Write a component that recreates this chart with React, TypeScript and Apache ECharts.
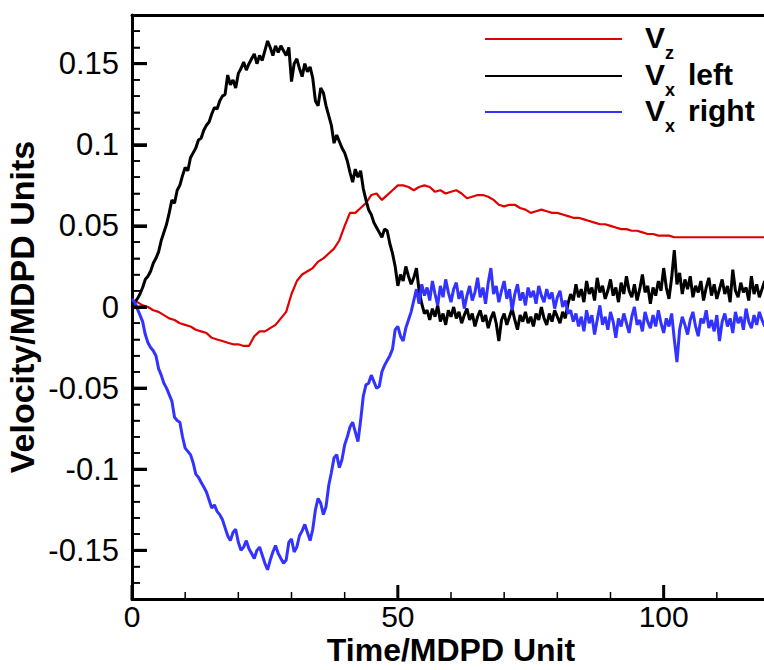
import React, { useEffect, useRef } from "react";
import * as echarts from "echarts";

// Axis tick values
const xMajorTicks = [0, 50, 100];
const xMinorTicks = [10, 20, 30, 40, 60, 70, 80, 90, 110];
const yMajorTicks = [-0.15, -0.1, -0.05, 0, 0.05, 0.1, 0.15];
const yMinorTicks = [
  -0.17, -0.16, -0.14, -0.13, -0.12, -0.11, -0.09, -0.08, -0.07, -0.06, -0.04, -0.03, -0.02, -0.01,
  0.01, 0.02, 0.03, 0.04, 0.06, 0.07, 0.08, 0.09, 0.11, 0.12, 0.13, 0.14, 0.16, 0.17,
];

// Vz (red)
const vz: [number, number][] = [
  [0, 0.004], [1, 0.003], [2, 0.001], [3, 0.0], [4, -0.002], [5, -0.003], [6, -0.005], [7, -0.007],
  [8, -0.008], [9, -0.01], [10, -0.011], [11, -0.012], [12, -0.014], [13, -0.015], [14, -0.016],
  [15, -0.019], [16, -0.02], [17, -0.021], [18, -0.022], [19, -0.023], [20, -0.023], [21, -0.024],
  [22, -0.024], [23, -0.018], [24, -0.015], [25, -0.015], [26, -0.013], [27, -0.011], [28, -0.007],
  [29, -0.003], [30, 0.008], [31, 0.016], [32, 0.02], [33, 0.022], [34, 0.024], [35, 0.028],
  [36, 0.03], [37, 0.033], [38, 0.036], [39, 0.041], [40, 0.05], [41, 0.058], [42, 0.058],
  [43, 0.061], [44, 0.064], [45, 0.069], [46, 0.07], [47, 0.066], [48, 0.069], [49, 0.072],
  [50, 0.075], [51, 0.075], [52, 0.074], [53, 0.072], [54, 0.074], [55, 0.075], [56, 0.074],
  [57, 0.071], [58, 0.072], [59, 0.07], [60, 0.071], [61, 0.072], [62, 0.07], [63, 0.067],
  [64, 0.068], [65, 0.069], [66, 0.069], [67, 0.068], [68, 0.066], [69, 0.063], [70, 0.062],
  [71, 0.063], [72, 0.063], [73, 0.061], [74, 0.06], [75, 0.058], [76, 0.059], [77, 0.06],
  [78, 0.059], [79, 0.058], [80, 0.058], [81, 0.057], [82, 0.056], [83, 0.055], [84, 0.055],
  [85, 0.054], [86, 0.053], [87, 0.052], [88, 0.051], [89, 0.051], [90, 0.05], [91, 0.049],
  [92, 0.048], [93, 0.048], [94, 0.047], [95, 0.047], [96, 0.046], [97, 0.045], [98, 0.045],
  [99, 0.044], [100, 0.044], [101, 0.044], [102, 0.043], [103, 0.043], [104, 0.043], [106, 0.043],
  [108, 0.043], [110, 0.043], [112, 0.043], [114, 0.043], [116, 0.043], [118, 0.043], [120, 0.043],
];

// Vx left (black)
const vxLeft: [number, number][] = [
  [0, 0.0], [0.5, 0.003], [1, 0.005], [1.5, 0.008], [2, 0.012], [2.5, 0.017], [3, 0.019], [3.5, 0.022],
  [4, 0.027], [4.5, 0.03], [5, 0.034], [5.5, 0.041], [6, 0.046], [6.5, 0.051], [7, 0.058], [7.5, 0.066],
  [8, 0.064], [8.5, 0.072], [9, 0.075], [9.5, 0.081], [10, 0.086], [10.5, 0.084], [11, 0.092],
  [11.5, 0.095], [12, 0.098], [12.5, 0.103], [13, 0.104], [13.5, 0.109], [14, 0.112], [14.5, 0.114],
  [15, 0.119], [15.5, 0.123], [16, 0.122], [16.5, 0.127], [17, 0.13], [17.5, 0.131], [18, 0.143],
  [18.5, 0.137], [19, 0.14], [19.5, 0.135], [20, 0.144], [20.5, 0.147], [21, 0.151], [21.5, 0.146],
  [22, 0.15], [22.5, 0.153], [23, 0.156], [23.5, 0.15], [24, 0.155], [24.5, 0.152], [25, 0.158],
  [25.5, 0.164], [26, 0.16], [26.5, 0.155], [27, 0.161], [27.5, 0.157], [28, 0.161], [28.5, 0.158],
  [29, 0.155], [29.5, 0.16], [30, 0.139], [30.5, 0.15], [31, 0.153], [31.5, 0.147], [32, 0.142],
  [32.5, 0.15], [33, 0.145], [33.5, 0.148], [34, 0.141], [34.5, 0.127], [35, 0.124], [35.5, 0.135],
  [36, 0.132], [36.5, 0.124], [37, 0.118], [37.5, 0.112], [38, 0.101], [38.5, 0.106], [39, 0.102],
  [39.5, 0.098], [40, 0.095], [40.5, 0.09], [41, 0.083], [41.5, 0.077], [42, 0.085], [42.5, 0.08],
  [43, 0.084], [43.5, 0.073], [44, 0.066], [44.5, 0.06], [45, 0.057], [45.5, 0.052], [46, 0.049],
  [46.5, 0.046], [47, 0.043], [47.5, 0.048], [48, 0.047], [48.5, 0.039], [49, 0.033], [49.5, 0.025],
  [50, 0.013], [50.5, 0.02], [51, 0.016], [51.5, 0.025], [52, 0.019], [52.5, 0.014], [53, 0.018],
  [53.5, 0.024], [54, 0.01], [54.5, 0.002], [55, -0.004], [55.5, -0.002], [56, -0.008], [56.5, -0.001],
  [57, -0.006], [57.5, 0.001], [58, -0.009], [58.5, -0.004], [59, -0.011], [59.5, -0.002], [60, -0.006],
  [60.5, 0.0], [61, -0.007], [61.5, -0.003], [62, -0.01], [62.5, -0.005], [63, -0.001], [63.5, -0.008],
  [64, -0.004], [64.5, -0.012], [65, -0.006], [65.5, -0.002], [66, -0.009], [66.5, -0.005], [67, -0.013],
  [67.5, -0.007], [68, -0.003], [68.5, -0.01], [69, -0.021], [69.5, -0.008], [70, -0.004], [70.5, -0.011],
  [71, -0.006], [71.5, -0.001], [72, -0.008], [72.5, -0.014], [73, -0.005], [73.5, -0.009], [74, -0.003],
  [74.5, -0.01], [75, -0.006], [75.5, -0.012], [76, -0.004], [76.5, -0.008], [77, 0.0], [77.5, -0.007],
  [78, -0.011], [78.5, -0.004], [79, -0.009], [79.5, -0.002], [80, -0.006], [80.5, -0.01], [81, -0.003],
  [81.5, -0.007], [82, 0.002], [82.5, 0.008], [83, 0.004], [83.5, 0.014], [84, 0.006], [84.5, 0.011],
  [85, 0.003], [85.5, 0.016], [86, 0.008], [86.5, 0.012], [87, 0.004], [87.5, 0.018], [88, 0.009],
  [88.5, 0.013], [89, 0.005], [89.5, 0.01], [90, 0.017], [90.5, 0.007], [91, 0.012], [91.5, 0.003],
  [92, 0.015], [92.5, 0.008], [93, 0.019], [93.5, 0.01], [94, 0.006], [94.5, 0.014], [95, 0.004],
  [95.5, 0.011], [96, 0.02], [96.5, 0.009], [97, 0.013], [97.5, 0.002], [98, 0.012], [98.5, 0.007],
  [99, 0.016], [99.5, 0.01], [100, 0.024], [100.5, 0.012], [101, 0.005], [101.5, 0.018], [102, 0.035],
  [102.5, 0.014], [103, 0.021], [103.5, 0.008], [104, 0.017], [104.5, 0.011], [105, 0.019], [105.5, 0.006],
  [106, 0.013], [106.5, 0.009], [107, 0.016], [107.5, 0.004], [108, 0.012], [108.5, 0.018], [109, 0.007],
  [109.5, 0.014], [110, 0.005], [110.5, 0.011], [111, 0.017], [111.5, 0.008], [112, 0.013], [112.5, 0.003],
  [113, 0.023], [113.5, 0.01], [114, 0.006], [114.5, 0.015], [115, 0.009], [115.5, 0.012], [116, 0.004],
  [116.5, 0.019], [117, 0.008], [117.5, 0.014], [118, 0.006], [118.5, 0.011], [119, 0.016], [119.5, 0.007],
  [120, 0.01],
];

// Vx right (blue)
const vxRight: [number, number][] = [
  [0, 0.005], [0.5, 0.003], [1, -0.001], [1.5, -0.005], [2, -0.009], [2.5, -0.017], [3, -0.022],
  [3.5, -0.025], [4, -0.027], [4.5, -0.03], [5, -0.038], [5.5, -0.042], [6, -0.047], [6.5, -0.05],
  [7, -0.054], [7.5, -0.058], [8, -0.068], [8.5, -0.07], [9, -0.071], [9.5, -0.08], [10, -0.087],
  [10.5, -0.089], [11, -0.091], [11.5, -0.096], [12, -0.103], [12.5, -0.105], [13, -0.108],
  [13.5, -0.111], [14, -0.114], [14.5, -0.119], [15, -0.124], [15.5, -0.122], [16, -0.126],
  [16.5, -0.128], [17, -0.131], [17.5, -0.136], [18, -0.141], [18.5, -0.144], [19, -0.139],
  [19.5, -0.137], [20, -0.145], [20.5, -0.15], [21, -0.148], [21.5, -0.144], [22, -0.149],
  [22.5, -0.152], [23, -0.155], [23.5, -0.15], [24, -0.148], [24.5, -0.153], [25, -0.158],
  [25.5, -0.162], [26, -0.156], [26.5, -0.151], [27, -0.147], [27.5, -0.152], [28, -0.155],
  [28.5, -0.158], [29, -0.156], [29.5, -0.145], [30, -0.143], [30.5, -0.151], [31, -0.148],
  [31.5, -0.141], [32, -0.138], [32.5, -0.134], [33, -0.139], [33.5, -0.144], [34, -0.137],
  [34.5, -0.125], [35, -0.118], [35.5, -0.121], [36, -0.128], [36.5, -0.123], [37, -0.11],
  [37.5, -0.102], [38, -0.093], [38.5, -0.091], [39, -0.099], [39.5, -0.094], [40, -0.085],
  [40.5, -0.08], [41, -0.074], [41.5, -0.071], [42, -0.077], [42.5, -0.083], [43, -0.07],
  [43.5, -0.055], [44, -0.048], [44.5, -0.047], [45, -0.042], [45.5, -0.046], [46, -0.05],
  [46.5, -0.049], [47, -0.04], [47.5, -0.036], [48, -0.033], [48.5, -0.03], [49, -0.026],
  [49.5, -0.014], [50, -0.012], [50.5, -0.018], [51, -0.021], [51.5, -0.013], [52, -0.008],
  [52.5, -0.003], [53, 0.004], [53.5, 0.011], [54, 0.002], [54.5, 0.014], [55, 0.007], [55.5, 0.012],
  [56, 0.004], [56.5, 0.016], [57, 0.008], [57.5, 0.001], [58, 0.013], [58.5, 0.006], [59, 0.017],
  [59.5, 0.009], [60, 0.003], [60.5, 0.011], [61, 0.015], [61.5, 0.005], [62, 0.01], [62.5, -0.001],
  [63, 0.007], [63.5, 0.013], [64, 0.004], [64.5, 0.009], [65, 0.018], [65.5, 0.006], [66, 0.012],
  [66.5, 0.002], [67, 0.015], [67.5, 0.024], [68, 0.008], [68.5, 0.013], [69, 0.003], [69.5, 0.01],
  [70, 0.016], [70.5, 0.005], [71, 0.011], [71.5, -0.002], [72, 0.008], [72.5, 0.014], [73, 0.004],
  [73.5, 0.009], [74, 0.001], [74.5, 0.012], [75, 0.006], [75.5, 0.01], [76, 0.002], [76.5, 0.013],
  [77, 0.007], [77.5, 0.003], [78, 0.011], [78.5, 0.005], [79, 0.009], [79.5, -0.001], [80, 0.006],
  [80.5, 0.01], [81, 0.0], [81.5, 0.004], [82, -0.004], [82.5, -0.002], [83, -0.009], [83.5, -0.004],
  [84, -0.012], [84.5, -0.006], [85, -0.015], [85.5, -0.002], [86, -0.01], [86.5, -0.005], [87, -0.017],
  [87.5, -0.008], [88, 0.001], [88.5, -0.011], [89, -0.006], [89.5, -0.014], [90, -0.003], [90.5, -0.009],
  [91, -0.019], [91.5, -0.007], [92, -0.012], [92.5, -0.004], [93, -0.01], [93.5, -0.016], [94, -0.006],
  [94.5, 0.0], [95, -0.011], [95.5, -0.008], [96, -0.015], [96.5, -0.003], [97, -0.009], [97.5, -0.013],
  [98, -0.005], [98.5, -0.012], [99, -0.002], [99.5, -0.01], [100, -0.016], [100.5, -0.007],
  [101, -0.012], [101.5, -0.004], [102, -0.02], [102.5, -0.034], [103, -0.014], [103.5, -0.006],
  [104, -0.011], [104.5, -0.017], [105, -0.008], [105.5, -0.003], [106, -0.012], [106.5, -0.018],
  [107, -0.007], [107.5, -0.01], [108, -0.002], [108.5, -0.013], [109, -0.008], [109.5, -0.015],
  [110, -0.005], [110.5, -0.021], [111, -0.009], [111.5, -0.004], [112, -0.012], [112.5, -0.007],
  [113, -0.016], [113.5, -0.003], [114, -0.01], [114.5, -0.006], [115, -0.014], [115.5, -0.001],
  [116, -0.009], [116.5, -0.013], [117, -0.005], [117.5, -0.011], [118, -0.003], [118.5, -0.008],
  [119, -0.012], [119.5, -0.004], [120, -0.007],
];

const RED = "#e00000";
const BLACK = "#000000";
const BLUE = "#3333ff";
const FONT = "Liberation Sans, Arial, sans-serif";
const Y_MIN = -0.18;
const Y_MAX = 0.18;
const GRID_LEFT = 132;
const GRID_TOP = 15;
const GRID_WIDTH = 638;
const GRID_HEIGHT = 584;

const legendRows = [
  { color: RED, sub: "z", rest: "", y: 39 },
  { color: BLACK, sub: "x", rest: "left", y: 76 },
  { color: BLUE, sub: "x", rest: "right", y: 112 },
];

export default function App() {
  const ref = useRef<HTMLDivElement>(null);
  useEffect(() => {
    if (!ref.current) return;
    const chart = echarts.init(ref.current, undefined, { renderer: "svg" });
    const fmtY = (v: number) => (Math.abs(v) < 1e-9 ? "0" : String(Number(v.toFixed(2))));
    const legendGraphics: any[] = [];
    legendRows.forEach((r) => {
      legendGraphics.push({
        type: "line",
        shape: { x1: 485, y1: r.y, x2: 622, y2: r.y },
        style: { stroke: r.color, lineWidth: 2 },
      });
      legendGraphics.push({
        type: "text",
        x: 645,
        y: r.y - 2,
        style: { text: "V", font: `bold 30px ${FONT}`, fill: "#000", verticalAlign: "middle", align: "left" },
      });
      legendGraphics.push({
        type: "text",
        x: 665,
        y: r.y + 14,
        style: { text: r.sub, font: `bold 18px ${FONT}`, fill: "#000", verticalAlign: "middle", align: "left" },
      });
      if (r.rest) {
        legendGraphics.push({
          type: "text",
          x: 688,
          y: r.y - 2,
          style: { text: r.rest, font: `bold 30px ${FONT}`, fill: "#000", verticalAlign: "middle", align: "left" },
        });
      }
    });

    // y tick marks on the left axis line (axis decorations, in the grid's own layout frame)
    const tickY = (v: number) => GRID_TOP + ((Y_MAX - v) / (Y_MAX - Y_MIN)) * GRID_HEIGHT;
    const yTickGraphics: any[] = [
      ...yMinorTicks.map((v) => ({
        type: "rect",
        z: 100,
        shape: { x: GRID_LEFT, y: tickY(v) - 0.75, width: 8, height: 1.5 },
        style: { fill: "#000" },
      })),
      ...yMajorTicks.map((v) => ({
        type: "rect",
        z: 100,
        shape: { x: GRID_LEFT, y: tickY(v) - 1.5, width: 15, height: 3 },
        style: { fill: "#000" },
      })),
    ];

    // y tick marks also through the y scale, as mark lines (tick length in time units)
    const yTickMarkLines: any[] = [
      ...yMinorTicks.map((v) => [
        { coord: [0, v], lineStyle: { width: 1.5, color: "#000", type: "solid" } },
        { coord: [1.5, v] },
      ]),
      ...yMajorTicks.map((v) => [
        { coord: [0, v], lineStyle: { width: 3, color: "#000", type: "solid" } },
        { coord: [2.8, v] },
      ]),
    ];

    // x tick marks, placed through the axes' scales: [x, y, length, lineWidth]
    const xTickData: number[][] = [
      ...xMinorTicks.map((v) => [v, Y_MIN, 7, 1.5]),
      ...xMajorTicks.map((v) => [v, Y_MIN, 14, 3]),
    ];

    chart.setOption({
      animation: false,
      backgroundColor: "#ffffff",
      grid: {
        left: GRID_LEFT,
        top: GRID_TOP,
        width: GRID_WIDTH,
        height: GRID_HEIGHT,
        containLabel: false,
        outerBoundsMode: "none",
      },
      xAxis: [
        {
          type: "value",
          min: 0,
          max: 120,
          position: "bottom",
          name: "Time/MDPD Unit",
          nameLocation: "middle",
          nameGap: 35,
          nameMoveOverlap: false,
          nameTextStyle: { fontFamily: FONT, fontSize: 32, fontWeight: "bold", color: "#000" },
          axisLine: { show: true, onZero: false, lineStyle: { color: "#000", width: 3 } },
          axisTick: { show: false },
          axisLabel: {
            show: true,
            customValues: xMajorTicks,
            margin: 2,
            fontFamily: FONT,
            fontSize: 30,
            color: "#000",
          },
          splitLine: { show: false },
        },
        {
          type: "value",
          min: 0,
          max: 120,
          position: "top",
          axisLine: { show: true, onZero: false, lineStyle: { color: "#000", width: 3 } },
          axisTick: { show: false },
          axisLabel: { show: false },
          splitLine: { show: false },
        },
      ],
      yAxis: [
        {
          type: "value",
          min: Y_MIN,
          max: Y_MAX,
          position: "left",
          name: "Velocity/MDPD Units",
          nameLocation: "middle",
          nameRotate: 90,
          nameGap: 93,
          nameMoveOverlap: false,
          nameTextStyle: { fontFamily: FONT, fontSize: 34, fontWeight: "bold", color: "#000" },
          axisLine: { show: true, onZero: false, lineStyle: { color: "#000", width: 3 } },
          axisTick: { show: false },
          axisLabel: {
            show: true,
            customValues: yMajorTicks,
            formatter: fmtY,
            margin: 13,
            fontFamily: FONT,
            fontSize: 31,
            color: "#000",
          },
          splitLine: { show: false },
        },
      ],
      series: [
        {
          name: "xTicks",
          type: "custom",
          silent: true,
          clip: false,
          z: 10,
          data: xTickData,
          encode: { x: 0, y: 1 },
          renderItem: (_params: any, api: any) => {
            const p = api.coord([api.value(0), api.value(1)]);
            const len = api.value(2);
            return {
              type: "line",
              shape: { x1: p[0], y1: p[1], x2: p[0], y2: p[1] - len },
              style: { stroke: "#000", lineWidth: api.value(3) },
            };
          },
        },
        {
          name: "Vz",
          type: "line",
          data: vz,
          showSymbol: false,
          symbol: "none",
          lineStyle: { color: RED, width: 2.2 },
          markLine: {
            silent: true,
            symbol: ["none", "none"],
            label: { show: false },
            emphasis: { disabled: true },
            animation: false,
            data: yTickMarkLines,
          },
        },
        {
          name: "Vx left",
          type: "line",
          data: vxLeft,
          showSymbol: false,
          symbol: "none",
          lineStyle: { color: BLACK, width: 3 },
        },
        {
          name: "Vx right",
          type: "line",
          data: vxRight,
          showSymbol: false,
          symbol: "none",
          lineStyle: { color: BLUE, width: 3 },
        },
      ],
      graphic: [...legendGraphics, ...yTickGraphics],
    });

    return () => chart.dispose();
  }, []);
  return (
    <div
      ref={ref}
      style={{ position: "fixed", left: 0, top: 0, width: 764, height: 670, background: "#fff" }}
    />
  );
}
